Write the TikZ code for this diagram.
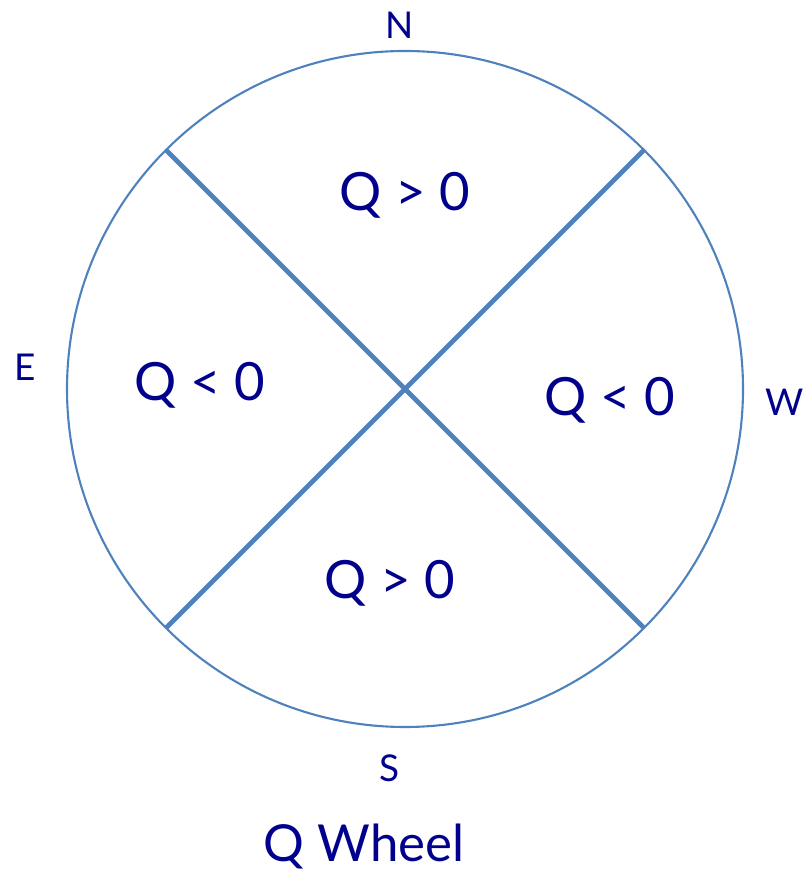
\documentclass[tikz,border=0pt]{standalone}
\usepackage{fontspec}
\setmainfont{Lato}
\usetikzlibrary{positioning,calc}
\definecolor{wheelblue}{RGB}{79,129,189}
\definecolor{textnavy}{RGB}{0,0,140}
\tikzset{
  sector/.style={text=textnavy, font=\fontsize{15}{17}\selectfont},
  caption/.style={text=textnavy, font=\fontsize{14.5}{16}\selectfont},
  compass/.style={text=textnavy, font=\fontsize{10.5}{12}\selectfont},
  divider/.style={draw=wheelblue, line width=1.4pt}
}
\begin{document}
\begin{tikzpicture}
    \useasboundingbox (0,0) rectangle (8.1,8.72);
    % the wheel
    \coordinate (c) at (4.05,4.83);
    \draw[wheelblue, line width=0.6pt] (c) circle (3.38);
    \coordinate (ne) at ($(c)+(45:3.38)$);
    \coordinate (nw) at ($(c)+(135:3.38)$);
    \coordinate (sw) at ($(c)+(225:3.38)$);
    \coordinate (se) at ($(c)+(315:3.38)$);
    \draw[divider] (nw) -- (se);
    \draw[divider] (sw) -- (ne);
    % sectors
    \node[sector] (top) at (4.05,6.77) {Q > 0};
    \node[sector] (left) at (2.0,4.87) {Q < 0};
    \node[sector] (right) at (6.1,4.72) {Q < 0};
    \node[sector] (bottom) at (3.9,2.89) {Q > 0};
    % compass points
    \node[compass] (n) at (4.0,8.47) {N};
    \node[compass] (e) at (0.25,5.05) {E};
    \node[compass] (w) at (7.85,4.70) {W};
    \node[compass] (s) at (3.9,1.04) {S};
    % caption
    \node[caption] (title) at (3.64,0.25) {Q Wheel};
\end{tikzpicture}
\end{document}
